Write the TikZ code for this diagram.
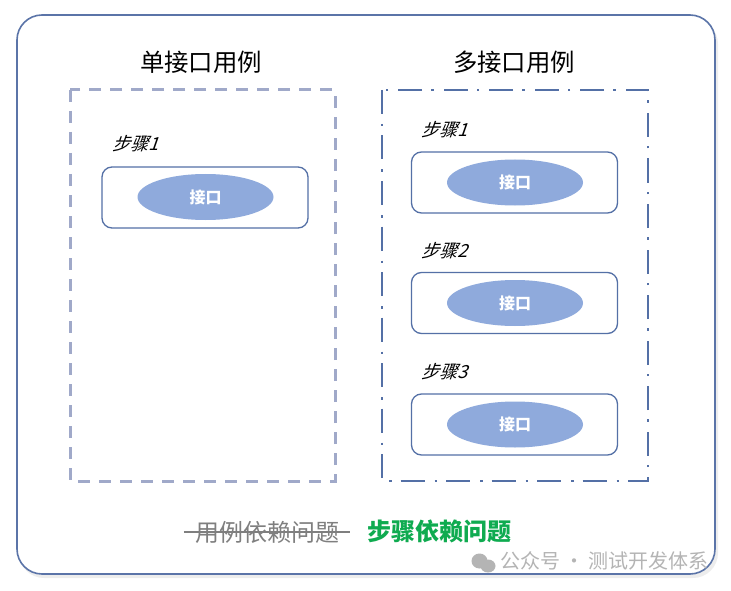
\documentclass[tikz,border=0pt]{standalone}
\usepackage{fontspec}
\setmainfont{Noto Sans CJK SC}
\newfontfamily\slantfont[FakeSlant=0.35]{Noto Sans CJK SC}
\usetikzlibrary{shapes.geometric}
\definecolor{framecol}{HTML}{5B74A8}
\definecolor{leftcol}{HTML}{A0A9C9}
\definecolor{rightcol}{HTML}{5470A6}
\definecolor{ovalcol}{HTML}{8FAADC}
\definecolor{greencol}{HTML}{0FAB50}
\definecolor{graycol}{HTML}{7F7F7F}
\definecolor{markcol}{HTML}{B4B4B4}
\tikzset{
	stepbox/.style={draw=rightcol,line width=1.3pt,rounded corners=10pt,minimum width=206pt,minimum height=61pt,inner sep=0pt},
	oval/.style={ellipse,fill=ovalcol,text=white,minimum width=136pt,minimum height=46pt,inner sep=0pt,font=\fontsize{16}{16}\selectfont\bfseries},
	steplabel/.style={inner sep=0pt,font=\fontsize{18}{18}\slantfont},
	title/.style={inner sep=0pt,font=\fontsize{24.4}{24.4}\selectfont}
}
\begin{document}
\begin{tikzpicture}[x=1pt,y=-1pt]
\useasboundingbox (0,0) rectangle (731,591);
\fill[black!7,rounded corners=25pt] (19,19) rectangle (718,578);
\draw[framecol,fill=white,line width=1.6pt,rounded corners=25pt] (17,15) rectangle (715,574);

\node[title] (singletitle) at (201,62) {单接口用例};
\node[title] (multititle) at (514,62) {多接口用例};

\draw[leftcol,line width=3pt,dash pattern=on 12pt off 9pt] (70,90) rectangle (335,481);
\draw[rightcol,line width=2.6pt,dash pattern=on 24pt off 10pt on 2.5pt off 9pt] (382,90) rectangle (648,481);

\node[stepbox] (singlebox) at (205,197.5) {};
\node[oval] (singleoval) at (205.5,197) {接口};
\node[steplabel] (singlestep) at (135.5,144) {步骤1};

\foreach \n/\y in {1/182.5,2/303,3/424.5} {
	\node[stepbox] (multibox\n) at (514.5,\y) {};
	\node[oval] (multioval\n) at (515,\y) {接口};
	\node[steplabel] (multistep\n) at (444.5,\y-52.5) {步骤\n};
}

\node[inner sep=0pt,text=graycol,font=\fontsize{24}{24}\selectfont] (oldissue) at (267,532) {用例依赖问题};
\draw[graycol,line width=1.4pt] ([xshift=-11pt]oldissue.west) -- ([xshift=11pt]oldissue.east);
\node[inner sep=0pt,text=greencol,font=\fontsize{24}{24}\selectfont\bfseries] (newissue) at (439,531) {步骤依赖问题};

\fill[markcol] (479.5,561) ellipse (8pt and 7.5pt);
\fill[markcol] (488,566) ellipse (7.5pt and 6.5pt);
\node[inner sep=0pt,text=markcol,font=\fontsize{20}{20}\selectfont] (markname) at (604.5,561) {公众号 · 测试开发体系};
\end{tikzpicture}
\end{document}
